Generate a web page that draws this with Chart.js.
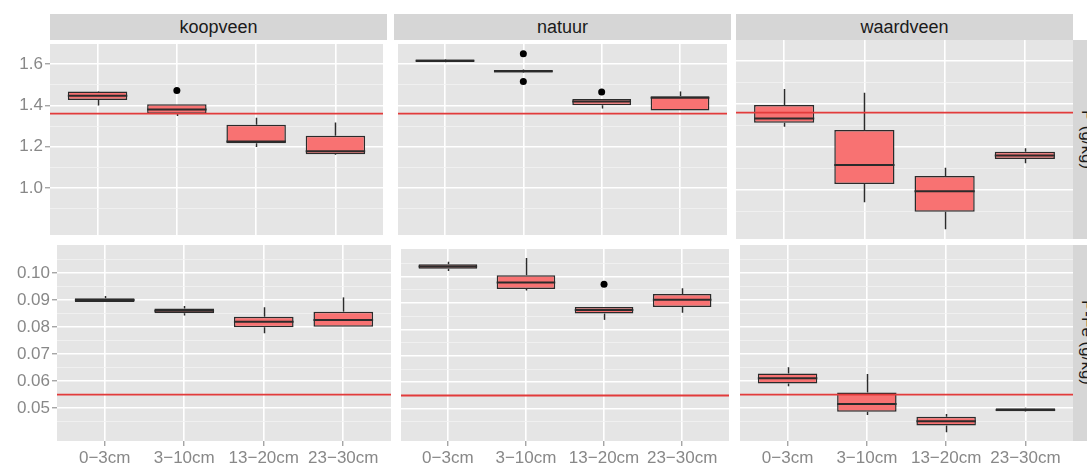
<!DOCTYPE html>
<html>
<head>
<meta charset="utf-8">
<script src="https://cdn.jsdelivr.net/npm/chart.js@4.4.1/dist/chart.umd.min.js"></script>
<style>
  body { margin: 0; background: #fff; }
  #wrap { position: relative; width: 1087px; height: 470px; overflow: hidden; font-family: 'Liberation Sans', Arial, sans-serif; }
  #wrap canvas { position: absolute; }
  .strip { position: absolute; background: #d6d6d6; color: #1a1a1a; font-size: 18px; display: flex; align-items: center; justify-content: center; }
  .strip.side span { writing-mode: vertical-rl; font-size: 17px; }
</style>
</head>
<body>
<div id="wrap">
  <div class="strip" style="left:50px;top:14px;width:337px;height:26px">koopveen</div>
  <div class="strip" style="left:394px;top:14px;width:337px;height:26px">natuur</div>
  <div class="strip" style="left:736px;top:14px;width:337px;height:26px">waardveen</div>
  <div class="strip side" style="left:1073px;top:40px;width:27px;height:199px"><span>P (g/kg)</span></div>
  <div class="strip side" style="left:1073px;top:245px;width:27px;height:196px"><span>P-Fe (g/kg)</span></div>

  <canvas id="pKoop" width="387" height="199" style="left:0;top:40px"></canvas>
  <canvas id="pNat" width="337" height="199" style="left:394px;top:40px"></canvas>
  <canvas id="pWaard" width="337" height="199" style="left:736px;top:40px"></canvas>
  <canvas id="feKoop" width="391" height="225" style="left:0;top:245px"></canvas>
  <canvas id="feNat" width="336" height="225" style="left:397px;top:245px"></canvas>
  <canvas id="feWaard" width="333" height="225" style="left:740px;top:245px"></canvas>
</div>
<script>
// depth classes (x axis)
const depths = ['0\u22123cm', '3\u221210cm', '13\u221220cm', '23\u221230cm'];

// boxes per depth: [lower whisker, q1, median, q3, upper whisker]
const pKoopveen  = [[1.400, 1.427, 1.447, 1.468, 1.470], [1.349, 1.360, 1.380, 1.406, 1.406], [1.199, 1.217, 1.225, 1.306, 1.341], [1.160, 1.163, 1.178, 1.253, 1.318]];
const pNatuur    = [[1.609, 1.611, 1.617, 1.623, 1.625], [1.558, 1.560, 1.566, 1.572, 1.574], [1.385, 1.401, 1.419, 1.431, 1.431], [1.375, 1.375, 1.437, 1.445, 1.468]];
const pWaardveen = [[1.294, 1.313, 1.333, 1.395, 1.470], [0.943, 1.028, 1.116, 1.279, 1.453], [0.817, 0.899, 0.994, 1.065, 1.104], [1.124, 1.144, 1.161, 1.178, 1.194]];

const feKoopveen  = [[0.0893, 0.0893, 0.0900, 0.0907, 0.0915], [0.0843, 0.0851, 0.0860, 0.0869, 0.0878], [0.0777, 0.0799, 0.0820, 0.0838, 0.0873], [0.0801, 0.0801, 0.0826, 0.0857, 0.0910]];
const feNatuur    = [[0.1021, 0.1029, 0.1038, 0.1046, 0.1056], [0.0947, 0.0953, 0.0977, 0.1005, 0.1070], [0.0836, 0.0860, 0.0873, 0.0885, 0.0885], [0.0863, 0.0885, 0.0912, 0.0934, 0.0956]];
const feWaardveen = [[0.0581, 0.0591, 0.0610, 0.0628, 0.0651], [0.0474, 0.0486, 0.0515, 0.0558, 0.0626], [0.0410, 0.0435, 0.0451, 0.0468, 0.0478], [0.0486, 0.0488, 0.0493, 0.0499, 0.0501]];

// outliers: [depth index (1-based), value]
const pKoopOut = [[2, 1.473]];
const pNatOut = [[2, 1.651], [2, 1.516], [3, 1.465]];
const feNatOut = [[3, 0.0971]];

// axes
const pTicks = [1.0, 1.2, 1.4, 1.6];
const pMinor = [0.9, 1.1, 1.3, 1.5];
const pRange = [0.772, 1.698];
const feTicks = [0.05, 0.06, 0.07, 0.08, 0.09, 0.10];
const feMinor = [0.045, 0.055, 0.065, 0.075, 0.085, 0.095, 0.105];
const feRange = [0.0378, 0.1104];

// reference levels
const pNorm = 1.36;
const feNorm = 0.055;

Chart.defaults.font.family = "'Liberation Sans', Arial, sans-serif";

const boxPlugin = {
  id: 'boxplot',
  beforeDraw(chart) {
    const a = chart.chartArea, ctx = chart.ctx;
    ctx.save();
    ctx.fillStyle = '#e5e5e5';
    ctx.fillRect(a.left, a.top, a.right - a.left, a.bottom - a.top);
    ctx.restore();
  },
  beforeDatasetsDraw(chart, args, opts) {
    const ctx = chart.ctx, xs = chart.scales.x, ys = chart.scales.y;
    ctx.save();
    ctx.strokeStyle = '#2b2b2b';
    ctx.lineWidth = 1.5;
    opts.boxes.forEach((b, i) => {
      const x = Math.round(xs.getPixelForValue(i + 1)) + 0.5;
      ctx.beginPath();
      ctx.moveTo(x, ys.getPixelForValue(b[3]));
      ctx.lineTo(x, ys.getPixelForValue(b[4]));
      ctx.moveTo(x, ys.getPixelForValue(b[1]));
      ctx.lineTo(x, ys.getPixelForValue(b[0]));
      ctx.stroke();
    });
    ctx.restore();
  },
  afterDatasetsDraw(chart, args, opts) {
    const ctx = chart.ctx, xs = chart.scales.x, ys = chart.scales.y, a = chart.chartArea;
    const bars = chart.getDatasetMeta(0).data;
    ctx.save();
    ctx.strokeStyle = '#2b2b2b';
    ctx.lineWidth = 2;
    opts.boxes.forEach((b, i) => {
      const x = xs.getPixelForValue(i + 1), w = bars[i].width / 2;
      const y = ys.getPixelForValue(b[2]);
      ctx.beginPath();
      ctx.moveTo(x - w, y);
      ctx.lineTo(x + w, y);
      ctx.stroke();
    });
    // reference line
    const yn = ys.getPixelForValue(opts.norm);
    ctx.strokeStyle = '#e23b3b';
    ctx.lineWidth = 1.8;
    ctx.beginPath();
    ctx.moveTo(a.left, yn);
    ctx.lineTo(a.right, yn);
    ctx.stroke();
    ctx.restore();
  }
};

function makePanel(id, boxes, outliers, o) {
  const isMinor = (c) => c.tick && c.tick.minor;
  new Chart(document.getElementById(id), {
    type: 'bar',
    data: {
      datasets: [{
        type: 'bar',
        data: boxes.map((b, i) => ({ x: i + 1, y: [b[1], b[3]] })),
        backgroundColor: '#f87272',
        borderColor: '#2b2b2b',
        borderWidth: 1.5,
        borderSkipped: false,
        barPercentage: 0.75,
        categoryPercentage: 1,
        grouped: false
      }, {
        type: 'scatter',
        data: outliers.map(p => ({ x: p[0], y: p[1] })),
        backgroundColor: '#000',
        borderWidth: 0,
        pointRadius: 3.5
      }]
    },
    options: {
      responsive: false,
      animation: false,
      devicePixelRatio: 1,
      layout: { padding: 0 },
      plugins: {
        legend: { display: false },
        tooltip: { enabled: false },
        boxplot: { boxes: boxes, norm: o.norm }
      },
      scales: {
        x: {
          type: 'linear',
          offset: false,
          min: 0.4,
          max: 4.6,
          afterBuildTicks: (s) => { s.ticks = depths.map((d, i) => ({ value: i + 1 })); },
          afterFit: (s) => { s.height = o.xHeight; s.paddingLeft = 0; s.paddingRight = 0; },
          border: { display: false },
          grid: { offset: false, color: '#ffffff', lineWidth: 1.6, drawTicks: o.xHeight > 0, tickLength: 5, tickColor: '#808080', tickWidth: 1 },
          ticks: {
            display: o.xHeight > 0,
            autoSkip: false,
            maxRotation: 0,
            padding: 2,
            color: '#888',
            font: { size: 17 },
            callback: (v) => depths[v - 1]
          }
        },
        y: {
          type: 'linear',
          min: o.range[0],
          max: o.range[1],
          afterBuildTicks: (s) => {
            s.ticks = o.major.map(v => ({ value: v })).concat(o.minor.map(v => ({ value: v, minor: true })));
          },
          afterFit: (s) => { s.width = o.yWidth; s.paddingTop = 0; s.paddingBottom = 0; },
          border: { display: false },
          grid: {
            color: (c) => isMinor(c) ? '#f2f2f2' : '#ffffff',
            lineWidth: (c) => isMinor(c) ? 0.8 : 1.6,
            drawTicks: o.yWidth > 0,
            tickLength: 5,
            tickColor: (c) => isMinor(c) ? 'rgba(0,0,0,0)' : '#808080',
            tickWidth: 1
          },
          ticks: {
            display: o.yWidth > 0,
            autoSkip: false,
            padding: 2,
            color: '#888',
            font: { size: 17 },
            callback: (v, i, t) => t[i].minor ? '' : v.toFixed(o.digits)
          }
        }
      }
    },
    plugins: [boxPlugin]
  });
}

const pOpts = { range: pRange, major: pTicks, minor: pMinor, norm: pNorm, digits: 1, xHeight: 0 };
const feOpts = { range: feRange, major: feTicks, minor: feMinor, norm: feNorm, digits: 2, xHeight: 29 };

makePanel('pKoop', pKoopveen, pKoopOut, Object.assign({}, pOpts, { yWidth: 50 }));
makePanel('pNat', pNatuur, pNatOut, Object.assign({}, pOpts, { yWidth: 0 }));
makePanel('pWaard', pWaardveen, [], Object.assign({}, pOpts, { yWidth: 0 }));
makePanel('feKoop', feKoopveen, [], Object.assign({}, feOpts, { yWidth: 57 }));
makePanel('feNat', feNatuur, feNatOut, Object.assign({}, feOpts, { yWidth: 0 }));
makePanel('feWaard', feWaardveen, [], Object.assign({}, feOpts, { yWidth: 0 }));
</script>
</body>
</html>
